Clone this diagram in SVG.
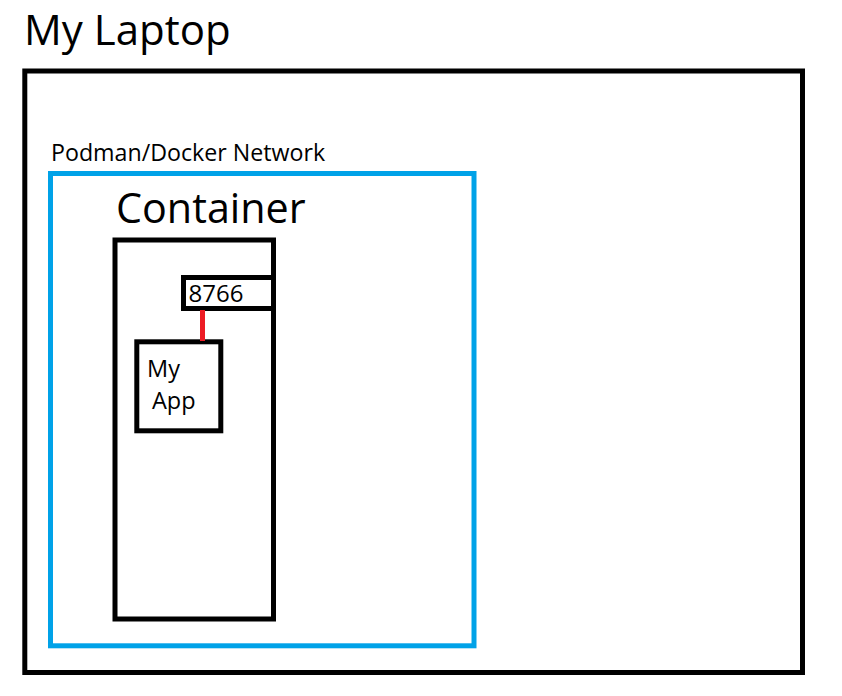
<svg xmlns="http://www.w3.org/2000/svg" width="842" height="696" viewBox="0 0 842 696">
<style>
text{font-family:"Open Sans","Noto Sans","DejaVu Sans",sans-serif;fill:#000}
.box{fill:none;stroke:#000;stroke-width:5}
.net{fill:none;stroke:#00A2E8;stroke-width:5}
</style>
<rect width="842" height="696" fill="#fff"/>
<g id="laptop">
<text x="24" y="45" font-size="42">My Laptop</text>
<rect class="box" x="24.8" y="71" width="777.7" height="601.5"/>
</g>
<g id="network">
<text x="51" y="161" font-size="23.2">Podman/Docker Network</text>
<rect class="net" x="50.5" y="173.5" width="423.5" height="472.3"/>
</g>
<g id="container">
<text x="116" y="222.7" font-size="41.3">Container</text>
<rect class="box" x="115" y="240" width="158.5" height="379"/>
</g>
<g id="port">
<rect class="box" x="183.5" y="277.5" width="90" height="31"/>
<text x="188.5" y="301.7" font-size="24">8766</text>
</g>
<g id="app">
<rect class="box" x="136.8" y="341.8" width="84" height="89"/>
<text x="147" y="376.7" font-size="23.5">My</text>
<text x="152" y="409" font-size="23.5">App</text>
</g>
<g id="connectors">
<line x1="202.5" y1="310" x2="202.5" y2="341" stroke="#ED1C24" stroke-width="5"/>
</g>
</svg>
